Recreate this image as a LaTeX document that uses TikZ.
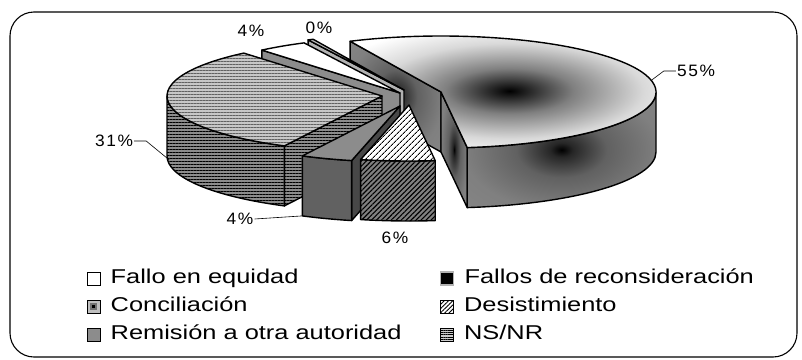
\documentclass[tikz,border=0pt]{standalone}
\usepackage{fontspec}
\newfontfamily\legfont[FakeStretch=1.27]{Liberation Sans}
\newfontfamily\pctfont[FakeStretch=1.05,LetterSpace=10]{Liberation Sans}
\usetikzlibrary{positioning,calc,patterns.meta}

% shadings for the Conciliacion slice
\pgfdeclareradialshading{concTop}{\pgfpoint{0bp}{0bp}}{color(0bp)=(black); color(3bp)=(black!85); color(10bp)=(black!50); color(21bp)=(black!15); color(30bp)=(white); color(50bp)=(white)}
\pgfdeclareradialshading{concSide}{\pgfpoint{0bp}{0bp}}{color(0bp)=(black); color(3bp)=(black!85); color(12bp)=(black!62); color(26bp)=(black!50); color(50bp)=(black!45)}

\tikzset{
  edge/.style  ={draw=black, line width=1.4pt, line join=round},
  lead/.style  ={draw=black, line width=0.6pt},
  frame/.style ={draw=black, line width=1.1pt, rounded corners=24pt},
  ell/.style   ={x radius=215, y radius=56},
}

\begin{document}
\begin{tikzpicture}[x=1pt, y=1pt,
  pct/.style={font=\pctfont\fontsize{16.5}{18}\selectfont, inner sep=1pt},
  legtext/.style={font=\legfont\fontsize{20}{22}\selectfont, inner sep=0pt,
    text height=13pt, text depth=4pt},
  legbox/.style={draw=black, line width=1pt, minimum size=13pt, inner sep=0pt},
  nsTop/.style={edge, preaction={fill=black!22},
    pattern={Lines[angle=0,distance=3pt,line width=1pt]}, pattern color=black!62},
  nsSide/.style={edge, preaction={fill=black!45},
    pattern={Lines[angle=0,distance=3pt,line width=0.9pt]}, pattern color=black},
  desTop/.style={edge, preaction={fill=white},
    pattern={Lines[angle=45,distance=4pt,line width=1pt]}, pattern color=black},
  desSide/.style={edge, preaction={fill=black!50},
    pattern={Lines[angle=45,distance=3.5pt,line width=1.1pt]}, pattern color=black}
]
\useasboundingbox (0,0) rectangle (802,-359);

% chart frame
\draw[frame] (10,-12) rectangle (797,-357);

%--- Conciliacion (55%) ---
\coordinate (cC) at (441,-92);
\shadedraw[edge, shading=concSide] (cC) -- ($(cC)+(115:215 and 56)$) -- ++(0,-60) -- ($(cC)+(0,-60)$) -- cycle;
\shadedraw[edge, shading=concSide] (cC) -- ($(cC)+(-83:215 and 56)$) -- ++(0,-60) -- ($(cC)+(0,-60)$) -- cycle;
\shadedraw[edge, shading=concSide] ($(cC)+(-83:215 and 56)$)
  arc[ell, start angle=-83, end angle=0] -- ++(0,-60)
  arc[ell, start angle=0, end angle=-83] -- cycle;
\shadedraw[edge, shading=concTop] (cC) -- ($(cC)+(-83:215 and 56)$)
  arc[ell, start angle=-83, end angle=115] -- cycle;

%--- Fallos de reconsideracion (0%) ---
\coordinate (cR) at (404,-90);
\draw[edge, fill=black!30] (cR) -- ($(cR)+(116.5:215 and 56)$) -- ++(0,-60) -- ($(cR)+(0,-60)$) -- cycle;
\draw[edge, fill=black!25] (cR) -- ($(cR)+(115:215 and 56)$)
  arc[ell, start angle=115, end angle=116.5] -- cycle;

%--- Fallo en equidad (4%) ---
\coordinate (cF) at (400,-93);
\draw[edge, fill=black!45] (cF) -- ($(cF)+(130:215 and 56)$) -- ++(0,-60) -- ($(cF)+(0,-60)$) -- cycle;
\draw[edge, fill=white] (cF) -- ($(cF)+(116.5:215 and 56)$)
  arc[ell, start angle=116.5, end angle=130] -- cycle;

%--- NS/NR (31%) ---
\coordinate (cN) at (382,-96);
\draw[nsSide] (cN) -- ($(cN)+(243:215 and 56)$) -- ++(0,-60) -- ($(cN)+(0,-60)$) -- cycle;
\draw[nsSide] ($(cN)+(180:215 and 56)$)
  arc[ell, start angle=180, end angle=243] -- ++(0,-60)
  arc[ell, start angle=243, end angle=180] -- cycle;
\draw[nsTop] (cN) -- ($(cN)+(130:215 and 56)$)
  arc[ell, start angle=130, end angle=243] -- cycle;

%--- Remision a otra autoridad (4%) ---
\coordinate (cM) at (400,-106);
\draw[edge, fill=black!72] (cM) -- ($(cM)+(257:215 and 56)$) -- ++(0,-60) -- ($(cM)+(0,-60)$) -- cycle;
\draw[edge, fill=black!62] ($(cM)+(243:215 and 56)$)
  arc[ell, start angle=243, end angle=257] -- ++(0,-60)
  arc[ell, start angle=257, end angle=243] -- cycle;
\draw[edge, fill=black!45] (cM) -- ($(cM)+(243:215 and 56)$)
  arc[ell, start angle=243, end angle=257] -- cycle;

%--- Desistimiento (6%) ---
\coordinate (cD) at (409,-105);
\draw[desSide] ($(cD)+(257:215 and 56)$)
  arc[ell, start angle=257, end angle=277] -- ++(0,-60)
  arc[ell, start angle=277, end angle=257] -- cycle;
\draw[desTop] (cD) -- ($(cD)+(257:215 and 56)$)
  arc[ell, start angle=257, end angle=277] -- cycle;

%--- Percent labels ---
\node[pct] (p55) at (696,-71) {55\%};
\coordinate (e55) at ($(cC)+(12:215 and 56)$);
\draw[lead] (p55.west) -- ++(-12,0) -- (e55);

\node[pct] (p31) at (114,-141) {31\%};
\coordinate (e31) at ($(cN)+(188:215 and 56)+(0,-56)$);
\draw[lead] (p31.east) -- ++(12,0) -- (e31);

\node[pct] (p4b) at (240,-219) {4\%};
\coordinate (e4b) at ($(cM)+(243:215 and 56)+(0,-60)$);
\draw[lead] (p4b.east) -- (e4b);

\node[pct] (p6) at (395,-238) {6\%};
\node[pct] (p4t) at (251,-31) {4\%};
\node[pct] (p0) at (319,-28) {0\%};

%--- Legend ---
\node[legbox, fill=white] (kFE) at (93.5,-278.5) {};
\node[legtext, right=10pt of kFE] (tFE) {Fallo en equidad};
\node[legbox, fill=black!25, path picture={
    \fill[black!55] ($(path picture bounding box.center)+(-3.5,-3.5)$) rectangle ++(7,7);
    \fill[black] ($(path picture bounding box.center)+(-1.8,-1.8)$) rectangle ++(3.6,3.6);}]
  (kCO) at (93.5,-306.5) {};
\node[legtext, right=10pt of kCO] (tCO) {Conciliación};
\node[legbox, fill=black!45] (kRE) at (93.5,-335) {};
\node[legtext, right=10pt of kRE] (tRE) {Remisión a otra autoridad};

\node[legbox, fill=black, draw=black!30, line width=1.6pt] (kFR) at (447,-278.5) {};
\node[legtext, right=10pt of kFR] (tFR) {Fallos de reconsideración};
\node[legbox, preaction={fill=white},
  pattern={Lines[angle=45,distance=3pt,line width=0.9pt]}, pattern color=black]
  (kDE) at (447,-306.5) {};
\node[legtext, right=10pt of kDE] (tDE) {Desistimiento};
\node[legbox, preaction={fill=black!20},
  pattern={Lines[angle=0,distance=2.2pt,line width=0.8pt]}, pattern color=black]
  (kNS) at (447,-335) {};
\node[legtext, right=10pt of kNS] (tNS) {NS/NR};

\end{tikzpicture}
\end{document}
